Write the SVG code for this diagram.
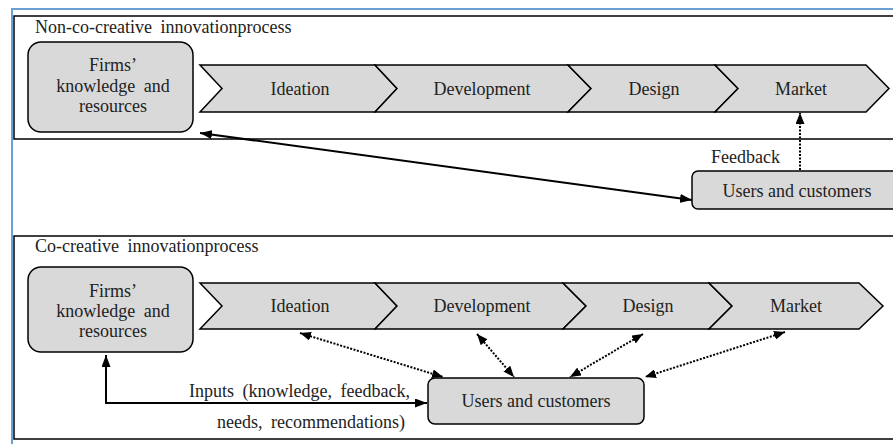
<svg xmlns="http://www.w3.org/2000/svg" width="893" height="444" viewBox="0 0 893 444">
<defs>
<marker id="ah" viewBox="0 0 12 9" refX="12" refY="4.5" markerWidth="12" markerHeight="9" markerUnits="userSpaceOnUse" orient="auto-start-reverse">
<path d="M0,0 L12,4.5 L0,9 z" fill="#000"/>
</marker>
<marker id="ahs" viewBox="0 0 11 9" refX="11" refY="4.5" markerWidth="11" markerHeight="9" markerUnits="userSpaceOnUse" orient="auto-start-reverse">
<path d="M0,0 L11,4.5 L0,9 z" fill="#000"/>
</marker>
</defs>
<style>
text{font-size:18px;fill:#222}
.c{text-anchor:middle}
.box{fill:#d9d9d9;stroke:#000;stroke-width:1.5}
.frame{fill:#fff;stroke:#000;stroke-width:1.5}
.solid{fill:none;stroke:#000;stroke-width:2;marker-start:url(#ah);marker-end:url(#ah)}
.dot{fill:none;stroke:#000;stroke-width:2;stroke-dasharray:2 1.5;marker-start:url(#ahs);marker-end:url(#ahs)}
.dot1{fill:none;stroke:#000;stroke-width:2;stroke-dasharray:2 1.5;marker-end:url(#ahs)}
</style>
<rect width="893" height="444" fill="#fff"/>
<g font-family="'Liberation Serif', 'Times New Roman', 'DejaVu Serif', serif">
<g id="frames">
<rect class="frame" x="14" y="16" width="890" height="123"/>
<rect class="frame" x="14" y="236" width="890" height="203"/>
<path d="M12,444 V9 H893" fill="none" stroke="#6c9fd6" stroke-width="2"/>
</g>
<text x="35" y="33" style="word-spacing:4px">Non-co-creative innovationprocess</text>
<text x="35" y="252" style="word-spacing:4px">Co-creative innovationprocess</text>

<g id="firms1">
<rect class="box" x="28" y="42" width="165" height="90" rx="13"/>
<text class="c" x="113" y="71">Firms’</text>
<text class="c" x="113" y="92" style="word-spacing:4px">knowledge and</text>
<text class="c" x="113" y="112">resources</text>
</g>
<g id="ideation1">
<polygon class="box" points="200,65 375,65 397,88.5 375,112 200,112 222,88.5"/>
<text class="c" x="300" y="95">Ideation</text>
</g>
<g id="development1">
<polygon class="box" points="375,65 568,65 591,88.5 568,112 375,112 397,88.5"/>
<text class="c" x="482" y="95">Development</text>
</g>
<g id="design1">
<polygon class="box" points="568,65 715,65 738,88.5 715,112 568,112 591,88.5"/>
<text class="c" x="654" y="95">Design</text>
</g>
<g id="market1">
<polygon class="box" points="715,65 866,65 889,88.5 866,112 715,112 738,88.5"/>
<text class="c" x="801" y="95">Market</text>
</g>
<g id="users1">
<rect class="box" x="692" y="171" width="215" height="38" rx="6"/>
<text class="c" x="797" y="197">Users and customers</text>
</g>

<g id="firms2">
<rect class="box" x="28" y="267" width="165" height="85" rx="13"/>
<text class="c" x="113" y="297">Firms’</text>
<text class="c" x="113" y="317" style="word-spacing:4px">knowledge and</text>
<text class="c" x="113" y="337">resources</text>
</g>
<g id="ideation2">
<polygon class="box" points="200,283 375,283 397,306 375,329 200,329 222,306"/>
<text class="c" x="300" y="312">Ideation</text>
</g>
<g id="development2">
<polygon class="box" points="375,283 563,283 586,306 563,329 375,329 397,306"/>
<text class="c" x="482" y="312">Development</text>
</g>
<g id="design2">
<polygon class="box" points="563,283 709,283 732,306 709,329 563,329 586,306"/>
<text class="c" x="648" y="312">Design</text>
</g>
<g id="market2">
<polygon class="box" points="709,283 859,283 883,306 859,329 709,329 732,306"/>
<text class="c" x="796" y="312">Market</text>
</g>
<g id="users2">
<rect class="box" x="428" y="378" width="216" height="46" rx="7"/>
<text class="c" x="536" y="407">Users and customers</text>
</g>

<g id="connectors">
<line class="solid" x1="200" y1="133" x2="692" y2="200"/>
<line class="dot1" x1="800" y1="170" x2="800" y2="113"/>
<text x="711" y="163">Feedback</text>
<path class="solid" d="M106,355 V403 H427"/>
<text x="410" y="397" style="text-anchor:end;word-spacing:4px">Inputs (knowledge, feedback,</text>
<text x="405" y="428" style="text-anchor:end;word-spacing:4px">needs, recommendations)</text>
<line class="dot" x1="300" y1="333" x2="443" y2="377"/>
<line class="dot" x1="477" y1="334" x2="514" y2="377"/>
<line class="dot" x1="643" y1="334" x2="570" y2="377"/>
<line class="dot" x1="785" y1="332" x2="645" y2="377"/>
</g>
</g>
</svg>
